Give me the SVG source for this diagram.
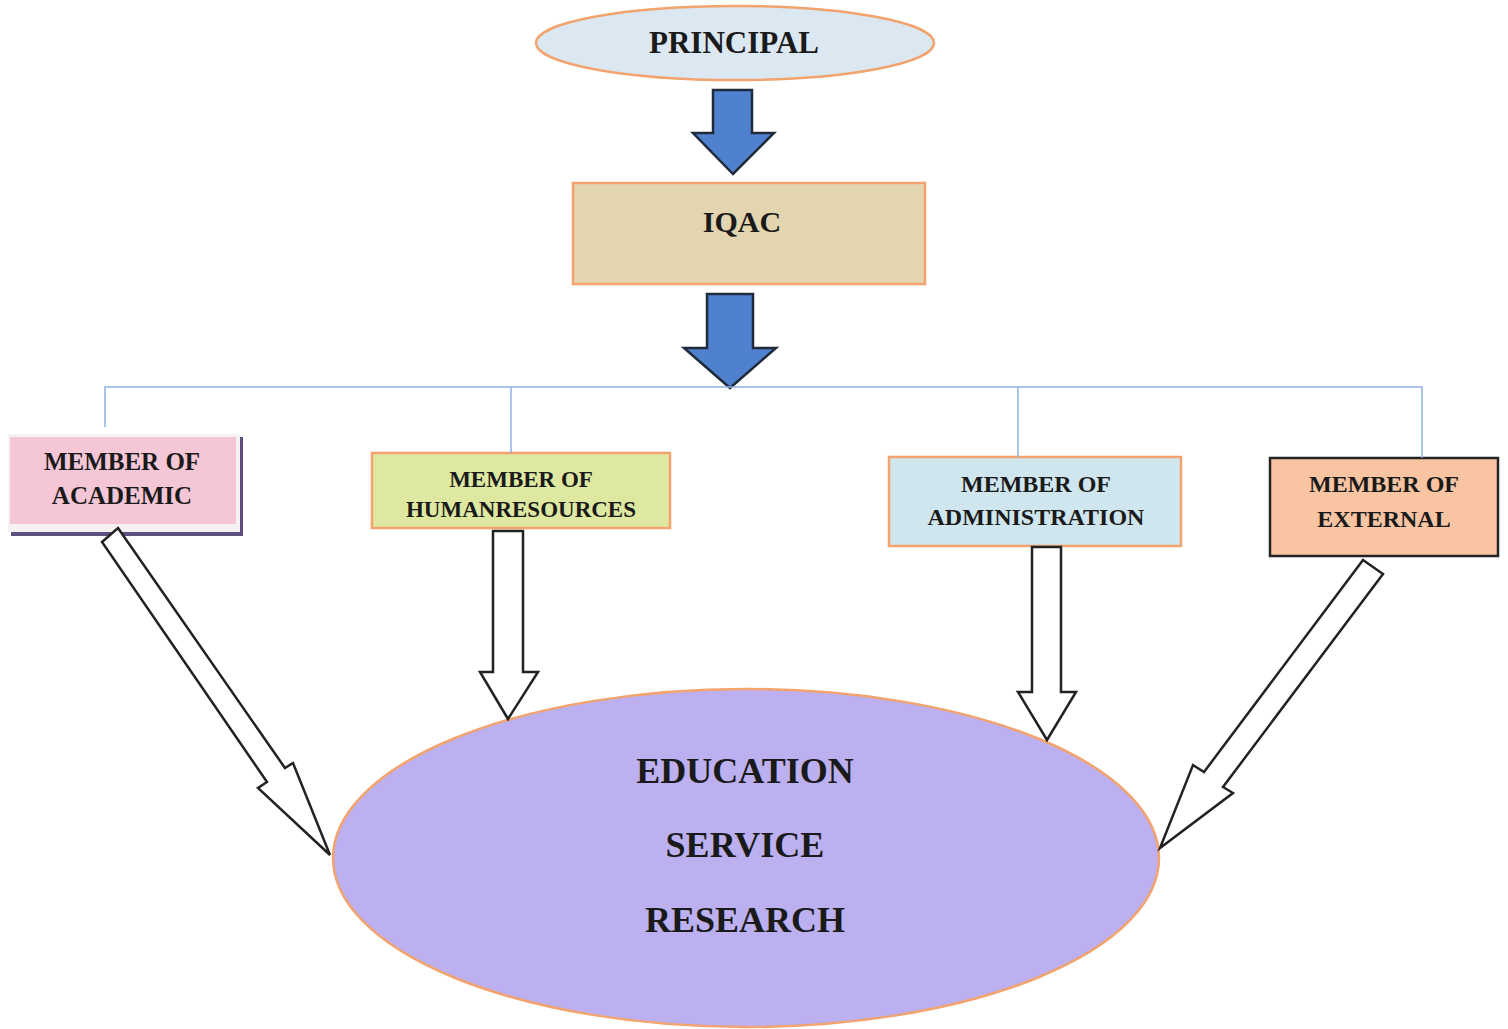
<svg xmlns="http://www.w3.org/2000/svg" width="1508" height="1029" viewBox="0 0 1508 1029">
<style>
.t{font-family:"Liberation Serif","Times New Roman",serif;font-weight:bold;fill:#1a1a1a;text-anchor:middle}
.blue{fill:#4f81cf;stroke:#1f2a3a;stroke-width:2.5;stroke-linejoin:miter}
.hollow{fill:#ffffff;stroke:#222222;stroke-width:2.5;stroke-linejoin:miter}
.conn{fill:none;stroke:#8fb0e0;stroke-width:1.5}
.orange{stroke:#f2a36e;stroke-width:2.5}
</style>
<rect width="1508" height="1029" fill="#ffffff"/>

<g id="principal">
<ellipse cx="735" cy="43" rx="199" ry="37" fill="#dbe8f2" class="orange"/>
<text class="t" x="734" y="53" font-size="31">PRINCIPAL</text>
</g>

<g id="iqac">
<rect x="573" y="183" width="352" height="101" fill="#e3d5b0" class="orange"/>
<text class="t" x="742" y="232" font-size="30">IQAC</text>
</g>

<g id="academic">
<rect x="11" y="437" width="232" height="99" fill="#5e4f80"/>
<rect x="8" y="434" width="232" height="98" fill="#f6f2f4"/>
<rect x="10" y="437" width="226" height="87" fill="#f4c6d6"/>
<text class="t" x="122" y="470" font-size="25">MEMBER OF</text>
<text class="t" x="122" y="504" font-size="25">ACADEMIC</text>
</g>

<g id="humanresources">
<rect x="372" y="453" width="298" height="75" fill="#dfe8a0" class="orange"/>
<text class="t" x="521" y="487" font-size="23">MEMBER OF</text>
<text class="t" x="521" y="517" font-size="23">HUMANRESOURCES</text>
</g>

<g id="administration">
<rect x="889" y="457" width="292" height="89" fill="#cfe6ee" class="orange"/>
<text class="t" x="1036" y="492" font-size="24">MEMBER OF</text>
<text class="t" x="1036" y="525" font-size="24">ADMINISTRATION</text>
</g>

<g id="external">
<rect x="1270" y="458" width="228" height="98" fill="#f9c4a2" stroke="#222222" stroke-width="2.5"/>
<text class="t" x="1384" y="492" font-size="24">MEMBER OF</text>
<text class="t" x="1384" y="527" font-size="24">EXTERNAL</text>
</g>

<g id="outcomes">
<ellipse cx="746" cy="858" rx="413" ry="169" fill="#bcb0f0" class="orange"/>
<text class="t" x="745" y="783" font-size="36">EDUCATION</text>
<text class="t" x="745" y="857" font-size="36">SERVICE</text>
<text class="t" x="745" y="932" font-size="36">RESEARCH</text>
</g>

<g id="connectors">
<polygon class="blue" points="713,90 752,90 752,133 774,133 733,174 693,133 713,133"/>
<polygon class="blue" points="707,294 753,294 753,348 776,348 730,388 684,348 707,348"/>
<polyline class="conn" points="105,427 105,387 1422,387 1422,458"/>
<line class="conn" x1="511" y1="387" x2="511" y2="453"/>
<line class="conn" x1="1018" y1="387" x2="1018" y2="457"/>
<polygon class="hollow" points="118,528 285,768 293,763 330,855 258,788 267,782 102,542"/>
<polygon class="hollow" points="493,531 523,531 523,672 538,672 508,719 480,672 493,672"/>
<polygon class="hollow" points="1032,547 1061,547 1061,692 1076,692 1047,740 1018,692 1032,692"/>
<polygon class="hollow" points="1363,560 1383,574 1223,787 1233,793 1160,848 1193,765 1204,772"/>
</g>
</svg>
